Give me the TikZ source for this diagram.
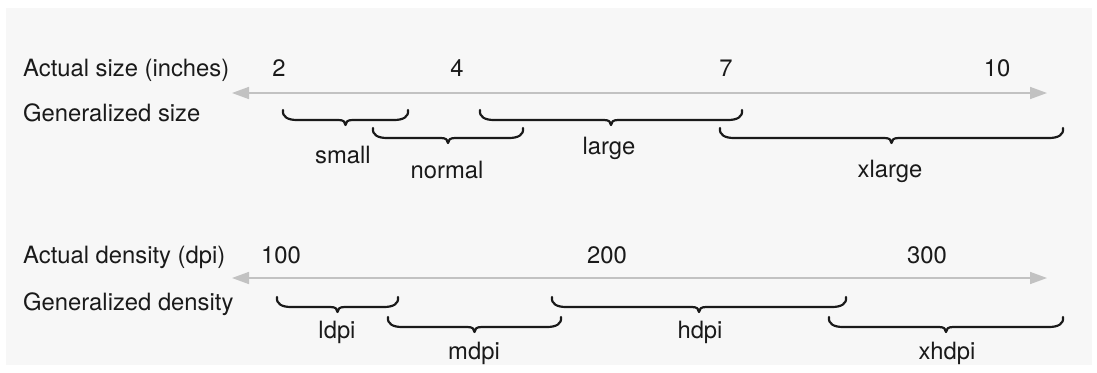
\documentclass[tikz,border=0pt]{standalone}
\usepackage{fontspec}
\setmainfont{TeX Gyre Heros}
\usetikzlibrary{arrows.meta}
\definecolor{bg}{HTML}{F7F7F7}
\definecolor{txt}{HTML}{1A1A1A}
\definecolor{axisgray}{HTML}{C2C2C2}
\definecolor{bracecol}{HTML}{1A1A1A}
\newcommand\mybrace[3]{% x1, x2, ytop
  \draw[bracestyle] (#1,#3) .. controls (#1-1,#3+7) and (#1+5,#3+10) .. (#1+14,#3+10)
    -- ({(#1+#2)/2-7},#3+10) .. controls ({(#1+#2)/2-2},#3+10) and ({(#1+#2)/2},#3+12) .. ({(#1+#2)/2},#3+15)
    .. controls ({(#1+#2)/2},#3+12) and ({(#1+#2)/2+2},#3+10) .. ({(#1+#2)/2+7},#3+10)
    -- (#2-14,#3+10) .. controls (#2-5,#3+10) and (#2+1,#3+7) .. (#2,#3);}
\begin{document}
\begin{tikzpicture}[x=1pt,y=-1pt,
  lbl/.style={anchor=base west, inner sep=0pt, text=txt, font=\fontsize{23.8}{28}\selectfont},
  num/.style={anchor=base, inner sep=0pt, text=txt, font=\fontsize{23.8}{28}\selectfont},
  axisarrow/.style={draw=axisgray, line width=1.6pt, {Triangle[length=17pt,width=12pt]}-{Triangle[length=17pt,width=12pt]}},
  bracestyle/.style={draw=bracecol, line width=2.2pt, line cap=round, line join=round}]
\useasboundingbox (0,0) rectangle (1097,372);
\fill[white] (0,0) rectangle (1097,372);
\fill[bg] (6,8) rectangle (1092,365);
% size section
\node[lbl] (as) at (23,76) {Actual size (inches)};
\node[num] (n2) at (279,76) {2};
\node[num] (n4) at (457,76) {4};
\node[num] (n7) at (726,76) {7};
\node[num] (n10) at (997,76) {10};
\node[lbl] (gs) at (23,121.5) {Generalized size};
\coordinate (sa) at (232,93);
\coordinate (sb) at (1047,93);
\draw[axisarrow] (sa) -- (sb);
\mybrace{283}{408}{110}
\mybrace{373}{523}{128}
\mybrace{480}{742}{110}
\mybrace{720}{1063}{128}
\node[num] (small) at (343,163) {small};
\node[num] (normal) at (447,178) {normal};
\node[num] (large) at (609,154) {large};
\node[num] (xlarge) at (890,177) {xlarge};
% density section
\node[lbl] (ad) at (23,263.5) {Actual density (dpi)};
\node[num] (d100) at (281,263.5) {100};
\node[num] (d200) at (607,263.5) {200};
\node[num] (d300) at (927,263.5) {300};
\node[lbl] (gd) at (23,310.5) {Generalized density};
\coordinate (da) at (232,278);
\coordinate (db) at (1047,278);
\draw[axisarrow] (da) -- (db);
\mybrace{277}{398}{297}
\mybrace{388}{561}{317}
\mybrace{552}{846}{297}
\mybrace{829}{1063}{317}
\node[num] (ldpi) at (337,338) {ldpi};
\node[num] (mdpi) at (474,359) {mdpi};
\node[num] (hdpi) at (700,338) {hdpi};
\node[num] (xhdpi) at (947,359) {xhdpi};
\end{tikzpicture}
\end{document}
